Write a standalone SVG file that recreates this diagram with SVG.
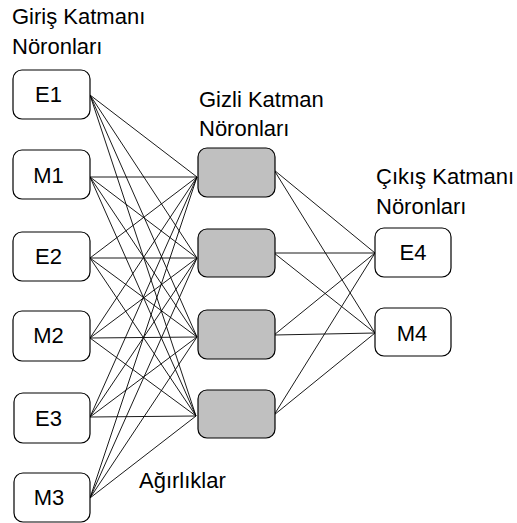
<svg xmlns="http://www.w3.org/2000/svg" width="517" height="523" viewBox="0 0 517 523">
<style>
.t{font-family:"Liberation Sans",Arial,sans-serif;font-size:22px;fill:#000}
.n{font-family:"Liberation Sans",Arial,sans-serif;font-size:22px;fill:#000;text-anchor:middle}
.in{fill:#fff;stroke:#000;stroke-width:1.2}
.hd{fill:#c0c0c0;stroke:#000;stroke-width:1.2}
.c line{stroke:#000;stroke-width:0.9}
</style>
<rect width="517" height="523" fill="#fff"/>
<text class="t" x="12" y="24">Giriş Katmanı</text>
<text class="t" x="12" y="54">Nöronları</text>
<text class="t" x="199" y="107">Gizli Katman</text>
<text class="t" x="199" y="136">Nöronları</text>
<text class="t" x="376" y="184">Çıkış Katmanı</text>
<text class="t" x="376" y="214">Nöronları</text>
<text class="t" x="139" y="488">Ağırlıklar</text>
<g id="connectors" class="c">
<line x1="90" y1="95" x2="197" y2="177"/><line x1="90" y1="95" x2="197" y2="258"/><line x1="90" y1="95" x2="197" y2="337"/><line x1="90" y1="95" x2="196" y2="416"/>
<line x1="90" y1="177" x2="197" y2="177"/><line x1="90" y1="177" x2="197" y2="258"/><line x1="90" y1="177" x2="197" y2="337"/><line x1="90" y1="177" x2="196" y2="416"/>
<line x1="90" y1="258" x2="197" y2="177"/><line x1="90" y1="258" x2="197" y2="258"/><line x1="90" y1="258" x2="197" y2="337"/><line x1="90" y1="258" x2="196" y2="416"/>
<line x1="90" y1="338" x2="197" y2="177"/><line x1="90" y1="338" x2="197" y2="258"/><line x1="90" y1="338" x2="197" y2="337"/><line x1="90" y1="338" x2="196" y2="416"/>
<line x1="90" y1="417" x2="197" y2="177"/><line x1="90" y1="417" x2="197" y2="258"/><line x1="90" y1="417" x2="197" y2="337"/><line x1="90" y1="417" x2="196" y2="416"/>
<line x1="90" y1="498" x2="197" y2="177"/><line x1="90" y1="498" x2="197" y2="258"/><line x1="90" y1="498" x2="197" y2="337"/><line x1="90" y1="498" x2="196" y2="416"/>
<line x1="274" y1="170" x2="375" y2="253"/><line x1="274" y1="170" x2="375" y2="333"/>
<line x1="274" y1="253" x2="375" y2="253"/><line x1="274" y1="253" x2="375" y2="333"/>
<line x1="274" y1="335" x2="375" y2="253"/><line x1="274" y1="335" x2="375" y2="333"/>
<line x1="274" y1="415" x2="375" y2="253"/><line x1="274" y1="415" x2="375" y2="333"/>
</g>
<g id="E1"><rect class="in" x="13" y="70" width="77" height="49" rx="9"/><text class="n" x="48.5" y="102">E1</text></g>
<g id="M1"><rect class="in" x="13" y="150" width="77" height="49" rx="9"/><text class="n" x="48.5" y="183">M1</text></g>
<g id="E2"><rect class="in" x="13" y="232" width="77" height="49" rx="9"/><text class="n" x="48.5" y="264">E2</text></g>
<g id="M2"><rect class="in" x="13" y="311" width="77" height="50" rx="9"/><text class="n" x="48.5" y="343">M2</text></g>
<g id="E3"><rect class="in" x="14" y="393" width="76" height="50" rx="9"/><text class="n" x="48.5" y="426">E3</text></g>
<g id="M3"><rect class="in" x="14" y="473" width="76" height="49" rx="9"/><text class="n" x="49" y="505">M3</text></g>
<g id="H1"><rect class="hd" x="198" y="148" width="77" height="49" rx="9"/></g>
<g id="H2"><rect class="hd" x="198" y="229" width="77" height="48" rx="9"/></g>
<g id="H3"><rect class="hd" x="198" y="310" width="77" height="49" rx="9"/></g>
<g id="H4"><rect class="hd" x="198" y="390" width="77" height="48" rx="9"/></g>
<g id="E4"><rect class="in" x="375" y="228" width="76" height="49" rx="9"/><text class="n" x="413" y="260">E4</text></g>
<g id="M4"><rect class="in" x="375" y="308" width="76" height="48" rx="9"/><text class="n" x="412" y="341">M4</text></g>
</svg>
